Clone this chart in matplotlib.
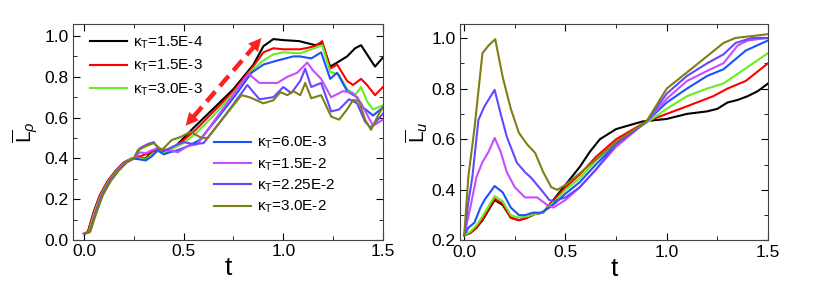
import matplotlib
matplotlib.use('Agg')
import matplotlib.pyplot as plt
from matplotlib.ticker import MultipleLocator

plt.rcParams['font.family'] = ['Liberation Sans', 'DejaVu Sans']
plt.rcParams['mathtext.fontset'] = 'custom'
plt.rcParams['mathtext.rm'] = 'Liberation Sans'
plt.rcParams['mathtext.it'] = 'Liberation Sans:italic'

# legend labels and colours
labels = ['κ$_\\mathregular{T}$=1.5E-4', 'κ$_\\mathregular{T}$=1.5E-3', 'κ$_\\mathregular{T}$=3.0E-3',
          'κ$_\\mathregular{T}$=6.0E-3', 'κ$_\\mathregular{T}$=1.5E-2', 'κ$_\\mathregular{T}$=2.25E-2',
          'κ$_\\mathregular{T}$=3.0E-2']
colors = ['#000000', '#ff0000', '#66ee22', '#1f50ff', '#c84cff', '#6448ff', '#7f7f14']

# ---- left panel : L_rho(t) ----
t_rho_k1 = [0, 0.02, 0.05, 0.08, 0.12, 0.16, 0.2, 0.24, 0.28, 0.31, 0.34, 0.37, 0.40, 0.43, 0.46, 0.5, 0.55,
            0.65, 0.75, 0.85, 0.9, 0.95, 1.0, 1.08, 1.16, 1.195, 1.235, 1.27, 1.32, 1.36, 1.39, 1.42, 1.46, 1.5]
rho_k1 = [0.03, 0.04, 0.14, 0.22, 0.29, 0.34, 0.38, 0.40, 0.40, 0.40, 0.43, 0.445, 0.43, 0.44, 0.46, 0.50, 0.55,
          0.645, 0.74, 0.86, 0.95, 0.985, 0.98, 0.975, 0.955, 0.965, 0.85, 0.87, 0.90, 0.94, 0.955, 0.91, 0.85, 0.895]
t_rho_k2 = [0, 0.02, 0.05, 0.08, 0.12, 0.16, 0.2, 0.24, 0.28, 0.31, 0.34, 0.37, 0.40, 0.43, 0.46, 0.5, 0.56,
            0.65, 0.75, 0.84, 0.9, 0.95, 1.0, 1.085, 1.16, 1.195, 1.235, 1.27, 1.32, 1.35, 1.39, 1.42, 1.46, 1.5]
rho_k2 = [0.03, 0.04, 0.14, 0.22, 0.29, 0.34, 0.38, 0.40, 0.41, 0.42, 0.43, 0.44, 0.43, 0.445, 0.46, 0.49, 0.54,
          0.63, 0.73, 0.84, 0.92, 0.94, 0.935, 0.935, 0.95, 0.975, 0.84, 0.86, 0.78, 0.76, 0.79, 0.76, 0.71, 0.75]
t_rho_k3 = [0, 0.025, 0.055, 0.085, 0.125, 0.165, 0.205, 0.24, 0.28, 0.31, 0.34, 0.37, 0.40, 0.43, 0.46, 0.5,
            0.57, 0.66, 0.75, 0.84, 0.9, 0.95, 1.0, 1.085, 1.14, 1.195, 1.235, 1.28, 1.32, 1.36, 1.39, 1.42, 1.45, 1.5]
rho_k3 = [0.03, 0.04, 0.14, 0.22, 0.29, 0.34, 0.38, 0.40, 0.40, 0.395, 0.42, 0.435, 0.425, 0.44, 0.455, 0.475,
          0.53, 0.62, 0.72, 0.83, 0.88, 0.91, 0.92, 0.915, 0.935, 0.955, 0.825, 0.81, 0.74, 0.71, 0.75, 0.68, 0.64, 0.66]
t_rho_k4 = [0, 0.03, 0.06, 0.09, 0.13, 0.17, 0.21, 0.25, 0.28, 0.31, 0.34, 0.37, 0.40, 0.43, 0.47, 0.52, 0.58,
            0.68, 0.76, 0.84, 0.9, 0.97, 1.05, 1.085, 1.14, 1.19, 1.235, 1.27, 1.32, 1.37, 1.40, 1.45, 1.5]
rho_k4 = [0.03, 0.04, 0.14, 0.22, 0.29, 0.34, 0.38, 0.40, 0.395, 0.39, 0.41, 0.44, 0.42, 0.43, 0.44, 0.46, 0.49,
          0.61, 0.71, 0.82, 0.86, 0.88, 0.90, 0.90, 0.89, 0.92, 0.79, 0.82, 0.73, 0.70, 0.65, 0.61, 0.65]
t_rho_k5 = [0, 0.03, 0.06, 0.09, 0.13, 0.17, 0.21, 0.25, 0.28, 0.31, 0.34, 0.37, 0.40, 0.43, 0.47, 0.52, 0.57,
            0.65, 0.74, 0.825, 0.88, 0.97, 1.02, 1.07, 1.12, 1.15, 1.19, 1.24, 1.30, 1.35, 1.39, 1.45, 1.5]
rho_k5 = [0.03, 0.04, 0.14, 0.22, 0.29, 0.34, 0.38, 0.40, 0.43, 0.425, 0.44, 0.45, 0.445, 0.44, 0.43, 0.46, 0.47,
          0.58, 0.70, 0.815, 0.77, 0.77, 0.80, 0.82, 0.87, 0.83, 0.79, 0.70, 0.73, 0.72, 0.67, 0.56, 0.59]
t_rho_k6 = [0, 0.03, 0.06, 0.09, 0.13, 0.17, 0.21, 0.25, 0.28, 0.32, 0.35, 0.38, 0.41, 0.45, 0.5, 0.55, 0.6,
            0.7, 0.82, 0.88, 0.95, 1.0, 1.04, 1.085, 1.11, 1.14, 1.19, 1.24, 1.28, 1.33, 1.37, 1.41, 1.44, 1.5]
rho_k6 = [0.03, 0.04, 0.14, 0.22, 0.29, 0.34, 0.38, 0.40, 0.45, 0.47, 0.48, 0.44, 0.44, 0.46, 0.48, 0.47, 0.475,
          0.60, 0.76, 0.69, 0.70, 0.75, 0.72, 0.78, 0.84, 0.75, 0.77, 0.63, 0.64, 0.69, 0.67, 0.58, 0.55, 0.62]
t_rho_k7 = [0, 0.03, 0.065, 0.095, 0.135, 0.175, 0.215, 0.25, 0.27, 0.31, 0.35, 0.39, 0.44, 0.485, 0.535, 0.59,
            0.62, 0.7, 0.79, 0.83, 0.9, 0.95, 0.985, 1.02, 1.05, 1.085, 1.11, 1.14, 1.19, 1.24, 1.28, 1.32, 1.35,
            1.38, 1.41, 1.44, 1.48, 1.5]
rho_k7 = [0.03, 0.04, 0.14, 0.22, 0.29, 0.34, 0.38, 0.40, 0.44, 0.46, 0.475, 0.44, 0.49, 0.505, 0.53, 0.50,
          0.50, 0.60, 0.71, 0.70, 0.67, 0.685, 0.725, 0.71, 0.73, 0.71, 0.77, 0.695, 0.71, 0.605, 0.59, 0.64, 0.687,
          0.68, 0.59, 0.54, 0.62, 0.65]

# ---- right panel : L_u(t) ----
t_u_k1 = [0, 0.03, 0.06, 0.09, 0.12, 0.15, 0.19, 0.23, 0.27, 0.31, 0.35, 0.39, 0.42, 0.46, 0.5, 0.57, 0.62,
          0.67, 0.75, 0.88, 1.0, 1.1, 1.2, 1.25, 1.3, 1.35, 1.4, 1.45, 1.5]
u_k1 = [0.22, 0.23, 0.25, 0.28, 0.32, 0.36, 0.34, 0.29, 0.28, 0.29, 0.305, 0.31, 0.34, 0.38, 0.42, 0.49, 0.55,
        0.60, 0.64, 0.67, 0.68, 0.70, 0.71, 0.72, 0.745, 0.755, 0.77, 0.79, 0.82]
t_u_k2 = [0, 0.03, 0.06, 0.09, 0.12, 0.15, 0.19, 0.23, 0.27, 0.31, 0.35, 0.39, 0.42, 0.46, 0.5, 0.57, 0.65,
          0.75, 0.9, 1.0, 1.1, 1.23, 1.3, 1.39, 1.5]
u_k2 = [0.22, 0.23, 0.25, 0.285, 0.325, 0.365, 0.345, 0.29, 0.28, 0.29, 0.305, 0.31, 0.34, 0.375, 0.41, 0.46,
        0.53, 0.60, 0.67, 0.70, 0.73, 0.77, 0.80, 0.83, 0.90]
t_u_k3 = [0, 0.03, 0.06, 0.09, 0.12, 0.15, 0.19, 0.23, 0.27, 0.31, 0.35, 0.39, 0.42, 0.46, 0.5, 0.57, 0.65,
          0.75, 0.9, 1.0, 1.1, 1.2, 1.28, 1.39, 1.5]
u_k3 = [0.22, 0.235, 0.26, 0.295, 0.335, 0.375, 0.355, 0.30, 0.29, 0.295, 0.305, 0.31, 0.335, 0.365, 0.40, 0.445,
        0.515, 0.585, 0.665, 0.72, 0.77, 0.80, 0.82, 0.88, 0.94]
t_u_k4 = [0, 0.02, 0.05, 0.08, 0.1, 0.15, 0.19, 0.23, 0.27, 0.3, 0.34, 0.38, 0.42, 0.46, 0.5, 0.57, 0.65,
          0.75, 0.9, 1.0, 1.1, 1.2, 1.28, 1.39, 1.5]
u_k4 = [0.22, 0.25, 0.27, 0.33, 0.36, 0.415, 0.39, 0.33, 0.30, 0.30, 0.31, 0.31, 0.33, 0.355, 0.385, 0.43, 0.50,
        0.58, 0.67, 0.745, 0.80, 0.85, 0.876, 0.95, 0.99]
t_u_k5 = [0, 0.03, 0.06, 0.09, 0.12, 0.15, 0.18, 0.21, 0.25, 0.3, 0.36, 0.41, 0.44, 0.5, 0.57, 0.65, 0.75, 0.9,
          1.0, 1.1, 1.2, 1.28, 1.35, 1.4, 1.5]
u_k5 = [0.22, 0.33, 0.45, 0.51, 0.55, 0.605, 0.55, 0.47, 0.41, 0.37, 0.37, 0.34, 0.33, 0.36, 0.41, 0.48, 0.57,
        0.67, 0.76, 0.83, 0.87, 0.90, 0.97, 0.99, 1.00]
t_u_k6 = [0, 0.02, 0.04, 0.07, 0.1, 0.15, 0.18, 0.21, 0.26, 0.3, 0.33, 0.38, 0.42, 0.44, 0.5, 0.57, 0.65, 0.75,
          0.9, 1.0, 1.1, 1.2, 1.28, 1.34, 1.42, 1.5]
u_k6 = [0.22, 0.35, 0.45, 0.676, 0.73, 0.795, 0.70, 0.61, 0.507, 0.47, 0.448, 0.40, 0.36, 0.355, 0.37, 0.41, 0.48,
        0.58, 0.67, 0.78, 0.85, 0.90, 0.935, 0.98, 1.00, 1.00]
t_u_k7 = [0, 0.02, 0.05, 0.09, 0.12, 0.153, 0.19, 0.23, 0.27, 0.31, 0.35, 0.39, 0.43, 0.46, 0.5, 0.57, 0.65,
          0.75, 0.9, 1.0, 1.15, 1.28, 1.34, 1.45, 1.5]
u_k7 = [0.22, 0.45, 0.64, 0.94, 0.97, 0.995, 0.845, 0.72, 0.625, 0.58, 0.546, 0.47, 0.41, 0.40, 0.42, 0.465, 0.52,
        0.59, 0.67, 0.80, 0.896, 0.98, 1.00, 1.01, 1.015]

rho_t = [t_rho_k1, t_rho_k2, t_rho_k3, t_rho_k4, t_rho_k5, t_rho_k6, t_rho_k7]
rho_v = [rho_k1, rho_k2, rho_k3, rho_k4, rho_k5, rho_k6, rho_k7]
u_t = [t_u_k1, t_u_k2, t_u_k3, t_u_k4, t_u_k5, t_u_k6, t_u_k7]
u_v = [u_k1, u_k2, u_k3, u_k4, u_k5, u_k6, u_k7]

# dashed double arrow, both tips in data units
arrow_low = (0.51, 0.56)
arrow_high = (0.89, 0.99)

fig = plt.figure(figsize=(8.14, 2.88), dpi=100)
ax1 = fig.add_axes([0.0897, 0.1667, 0.3808, 0.75])
ax2 = fig.add_axes([0.5651, 0.1650, 0.3784, 0.7517])

lines = []
for i in range(7):
    l, = ax1.plot(rho_t[i], rho_v[i], color=colors[i], lw=1.5, label=labels[i])
    lines.append(l)
    ax2.plot(u_t[i], u_v[i], color=colors[i], lw=1.5)

# shaft (dashed) + two solid heads
fr = 0.1
p_lo = (arrow_low[0] + fr * (arrow_high[0] - arrow_low[0]), arrow_low[1] + fr * (arrow_high[1] - arrow_low[1]))
p_hi = (arrow_high[0] - fr * (arrow_high[0] - arrow_low[0]), arrow_high[1] - fr * (arrow_high[1] - arrow_low[1]))
ax1.plot([p_lo[0], p_hi[0]], [p_lo[1], p_hi[1]], color='#ff2020', lw=3.2, linestyle=(0, (3, 1.6)),
         solid_capstyle='butt')
for tip, base in ((arrow_high, p_hi), (arrow_low, p_lo)):
    ax1.annotate('', xy=tip, xytext=base,
                 arrowprops=dict(arrowstyle='-|>,head_length=0.9,head_width=0.45', color='#ff2020',
                                 lw=0.1, shrinkA=0, shrinkB=0))

leg1 = ax1.legend(handles=lines[:3], loc='upper left', bbox_to_anchor=(0.02, 1.0), frameon=False,
                  fontsize=11, handlelength=2.4, handletextpad=0.4, labelspacing=0.45, borderaxespad=0.3)
ax1.add_artist(leg1)
ax1.legend(handles=lines[3:], loc='lower left', bbox_to_anchor=(0.42, 0.065), frameon=False,
           fontsize=11, handlelength=2.4, handletextpad=0.4, labelspacing=0.32, borderaxespad=0.3)

ax1.set_xlim(-0.055, 1.5)
ax1.set_ylim(0, 1.059)
ax1.yaxis.set_major_locator(MultipleLocator(0.2))
ax1.yaxis.set_minor_locator(MultipleLocator(0.1))
ax1.set_ylabel(r'$\overline{\mathregular{L}}_{\rho}$', fontsize=15, labelpad=3)

ax2.set_xlim(-0.021, 1.5)
ax2.set_ylim(0.2, 1.055)
ax2.yaxis.set_major_locator(MultipleLocator(0.2))
ax2.yaxis.set_minor_locator(MultipleLocator(0.1))
ax2.set_ylabel(r'$\overline{\mathregular{L}}_{u}$', fontsize=15, labelpad=1)

for ax in (ax1, ax2):
    ax.xaxis.set_major_locator(MultipleLocator(0.5))
    ax.xaxis.set_minor_locator(MultipleLocator(0.25))
    ax.tick_params(which='both', direction='in', top=True, right=True, labelsize=12.5, pad=3)
    ax.tick_params(which='major', length=5)
    ax.tick_params(which='minor', length=3)
    ax.set_xlabel('t', fontsize=19, labelpad=-2)
    for s in ax.spines.values():
        s.set_color('#444444')

fig.savefig('out.png', dpi=100)
